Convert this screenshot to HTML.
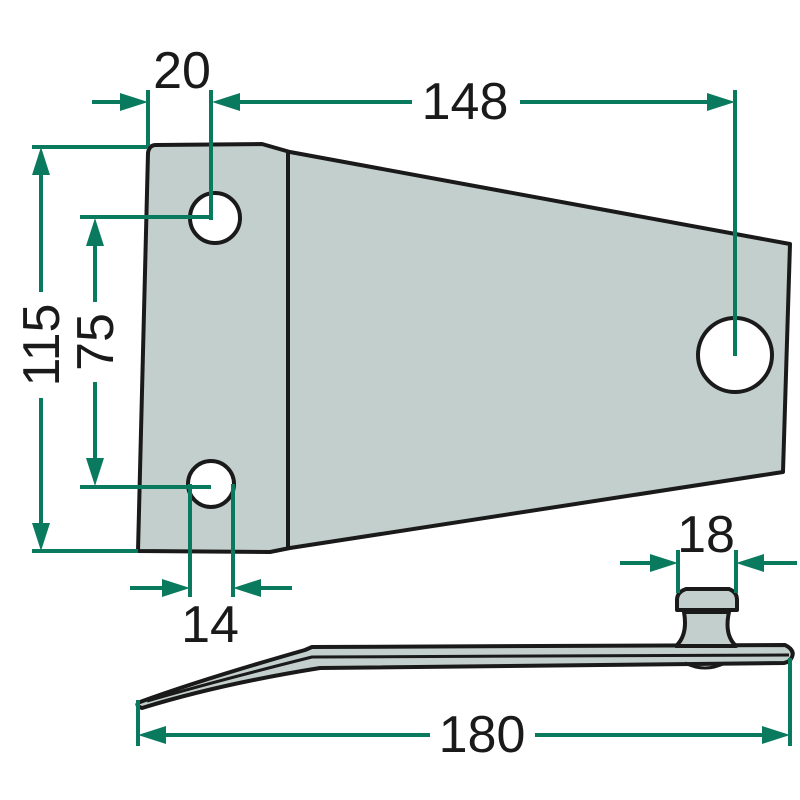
<!DOCTYPE html>
<html><head><meta charset="utf-8"><style>html,body{margin:0;padding:0;background:#fff}svg{display:block}</style></head>
<body>
<svg width="800" height="800" viewBox="0 0 800 800" xmlns="http://www.w3.org/2000/svg">
<defs>
<marker id="a" viewBox="0 0 10 10" refX="10" refY="5" markerWidth="8" markerHeight="8" markerUnits="userSpaceOnUse" orient="auto"></marker>
</defs>
<g fill="#c3cfcc" stroke="#1a1a1a" stroke-width="4" stroke-linejoin="round">
<path d="M156,145 L262,144 L290,152 L790,244 L783,472 L290,548 L270,552 L138,551 L148,153 Q149,145 156,145 Z"/>
<line x1="288" y1="152" x2="288" y2="549"/>
<circle cx="215" cy="218" r="25" fill="#fff"/>
<circle cx="211" cy="484" r="23" fill="#fff"/>
<circle cx="735" cy="355" r="37" fill="#fff"/>
<path d="M140,702 Q200,680 305,650 L312,647 L785,645 Q795,650 792,657 Q790,662 784,663 L320,668 Q220,684 142,708 Q134,705 140,702 Z"/>
<path d="M147,701 Q220,680 312,657 L789,655" fill="none" stroke-width="3"/>
<path d="M685,663 Q705,673 725,663" fill="none" stroke-width="3"/>
<path d="M684,612 Q688,635 676,646 L736,646 Q724,635 729,612 Z"/>
<path d="M686,589 L729,589 Q737,592 737,600 L737,610 L677,610 L677,600 Q677,592 686,589 Z"/>
</g>
<g stroke="#0a7a5f" stroke-width="4" fill="none">
<line x1="148" y1="90" x2="148" y2="146"/>
<line x1="211" y1="90" x2="211" y2="220"/>
<line x1="735" y1="90" x2="735" y2="356"/>
<line x1="92" y1="102" x2="125" y2="102"/>
<line x1="235" y1="102" x2="412" y2="102"/>
<line x1="520" y1="102" x2="712" y2="102"/>
<line x1="32" y1="147" x2="148" y2="147"/>
<line x1="32" y1="551" x2="138" y2="551"/>
<line x1="41" y1="170" x2="41" y2="292"/>
<line x1="41" y1="398" x2="41" y2="528"/>
<line x1="80" y1="217" x2="211" y2="217"/>
<line x1="80" y1="487" x2="211" y2="487"/>
<line x1="95" y1="240" x2="95" y2="302"/>
<line x1="95" y1="382" x2="95" y2="462"/>
<line x1="190" y1="484" x2="190" y2="597"/>
<line x1="233" y1="484" x2="233" y2="597"/>
<line x1="130" y1="588" x2="168" y2="588"/>
<line x1="255" y1="588" x2="292" y2="588"/>
<line x1="678" y1="550" x2="678" y2="593"/>
<line x1="736" y1="550" x2="736" y2="593"/>
<line x1="620" y1="563" x2="655" y2="563"/>
<line x1="759" y1="563" x2="797" y2="563"/>
<line x1="138" y1="700" x2="138" y2="746"/>
<line x1="790" y1="658" x2="790" y2="746"/>
<line x1="160" y1="735" x2="430" y2="735"/>
<line x1="535" y1="735" x2="768" y2="735"/>
</g>
<g fill="#0a7a5f">
<polygon points="148,102 120,93 120,111"/>
<polygon points="212,102 240,93 240,111"/>
<polygon points="735,102 707,93 707,111"/>
<polygon points="41,147 32,175 50,175"/>
<polygon points="41,551 32,523 50,523"/>
<polygon points="95,218 86,246 104,246"/>
<polygon points="95,486 86,458 104,458"/>
<polygon points="190,588 162,579 162,597"/>
<polygon points="233,588 261,579 261,597"/>
<polygon points="678,563 650,554 650,572"/>
<polygon points="736,563 764,554 764,572"/>
<polygon points="138,735 166,726 166,744"/>
<polygon points="790,735 762,726 762,744"/>
</g>
<g font-family="Liberation Sans, sans-serif" font-size="52" fill="#1a1a1a" text-anchor="middle">
<text x="182" y="88">20</text>
<text x="465" y="119">148</text>
<text x="210" y="642">14</text>
<text x="706" y="552">18</text>
<text x="482" y="752">180</text>
<text transform="translate(59,345) rotate(-90)">115</text>
<text transform="translate(113,342) rotate(-90)">75</text>
</g>
</svg>
</body></html>
